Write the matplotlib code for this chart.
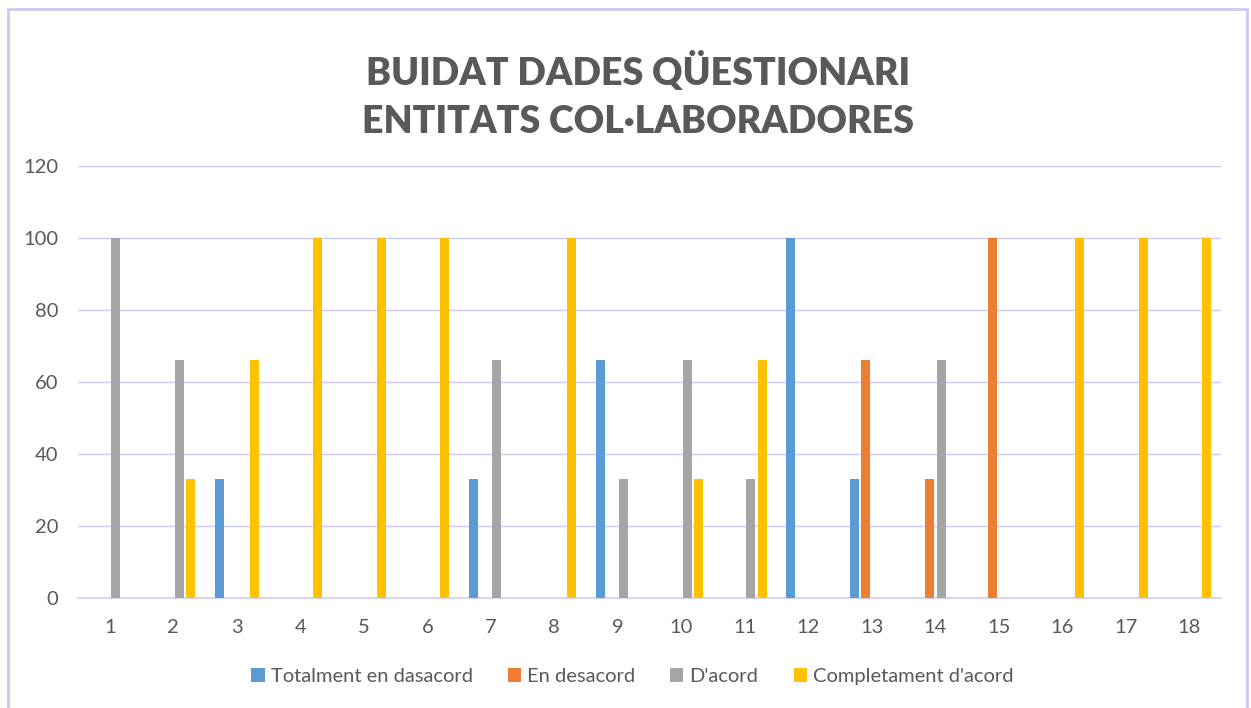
import numpy as np
import matplotlib
matplotlib.use("Agg")
import matplotlib.pyplot as plt
from matplotlib.patches import Rectangle

# questionnaire answers, % per question
questions = [str(i) for i in range(1, 19)]
labels = ["Totalment en dasacord", "En desacord", "D'acord", "Completament d'acord"]
totalment_desacord = [0, 0, 33, 0, 0, 0, 33, 0, 66, 0, 0, 100, 33, 0, 0, 0, 0, 0]
en_desacord = [0, 0, 0, 0, 0, 0, 0, 0, 0, 0, 0, 0, 66, 33, 100, 0, 0, 0]
dacord = [100, 66, 0, 0, 0, 0, 66, 0, 33, 66, 33, 0, 0, 66, 0, 0, 0, 0]
completament = [0, 33, 66, 100, 100, 100, 0, 100, 0, 33, 66, 0, 0, 0, 0, 100, 100, 100]

colors = ["#5b9bd5", "#ed7d31", "#a5a5a5", "#ffc000"]
grid_col = "#c9c9f5"
text_col = "#595959"

plt.rcParams['font.family'] = ['Lato', 'DejaVu Sans']

fig = plt.figure(figsize=(12.51, 7.08), dpi=100)
ax = fig.add_axes([0.0624, 0.1554, 0.9136, 0.6101])

series = [totalment_desacord, en_desacord, dacord, completament]
x = np.arange(len(questions))
slot = 0.183
width = 0.142
for k, vals in enumerate(series):
    ax.bar(x + (k - 1.5) * slot, vals, width, color=colors[k], label=labels[k], zorder=3)

ax.set_xlim(-0.5, len(questions) - 0.5)
ax.set_ylim(0, 120)
ax.set_yticks(np.arange(0, 121, 20))
ax.set_xticks(x)
ax.set_xticklabels(questions)
ax.yaxis.grid(True, color=grid_col, linewidth=1)
ax.set_axisbelow(True)
for s in ["top", "right", "left"]:
    ax.spines[s].set_visible(False)
ax.spines["bottom"].set_color("#d6d6f8")
ax.spines["bottom"].set_linewidth(1.5)
ax.tick_params(axis="both", length=0, labelsize=14.5, labelcolor=text_col)
ax.tick_params(axis="y", pad=14)
ax.tick_params(axis="x", pad=15)

fig.text(0.51, 0.866, "BUIDAT DADES QÜESTIONARI\nENTITATS COL·LABORADORES",
         ha="center", va="center", fontsize=27, fontweight="heavy",
         color=text_col, linespacing=1.5)

ax.legend(loc="center", bbox_to_anchor=(0.485, -0.182), ncol=4, frameon=False,
          fontsize=14.5, labelcolor=text_col, handlelength=0.65, handleheight=0.65,
          handletextpad=0.3, columnspacing=1.75)

# outer chart border
fig.patches.append(Rectangle((8 / 1251, -0.01), 1239 / 1251, 1 - 9 / 708 + 0.01,
                             transform=fig.transFigure, fill=False,
                             edgecolor=grid_col, linewidth=2))

plt.savefig("out.png", dpi=100)
